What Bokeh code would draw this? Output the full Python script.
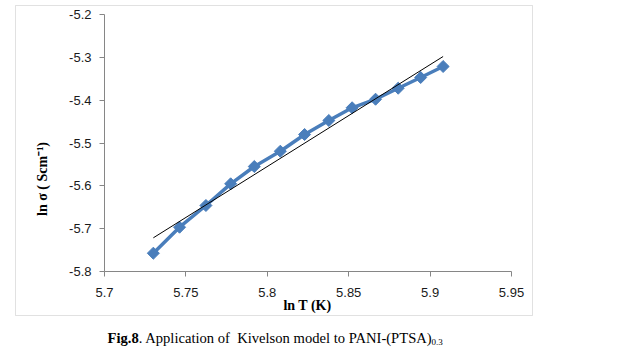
import numpy as np
from bokeh.plotting import figure
from bokeh.models import Range1d, FixedTicker, Label, BoxAnnotation
from bokeh.embed import file_html
from bokeh.resources import INLINE

# ---- data ----
ln_T = [5.7300, 5.7461, 5.7623, 5.7775, 5.7920, 5.8080, 5.8229,
        5.8378, 5.8521, 5.8665, 5.8804, 5.8942, 5.9080]
ln_sigma = [-5.7573, -5.6966, -5.6459, -5.5953, -5.5549, -5.5192, -5.4802,
            -5.4475, -5.4178, -5.3978, -5.3721, -5.3471, -5.3214]
x_ticks = [5.7, 5.75, 5.8, 5.85, 5.9, 5.95]
x_tick_labels = ["5.7", "5.75", "5.8", "5.85", "5.9", "5.95"]
y_ticks = [-5.8, -5.7, -5.6, -5.5, -5.4, -5.3, -5.2]
y_tick_labels = ["-5.8", "-5.7", "-5.6", "-5.5", "-5.4", "-5.3", "-5.2"]

x_title = "ln T (K)"
y_title = "ln σ ( Scm⁻¹)"
caption_bold = "Fig.8"
caption_main = ". Application of\u00a0 Kivelson model to PANI-(PTSA)"
caption_sub = "0.3"

# linear trend line (least squares)
slope, intercept = np.polyfit(ln_T, ln_sigma, 1)
trend_x = [min(ln_T), max(ln_T)]
trend_y = [slope * v + intercept for v in trend_x]

# ---- layout (pixels) ----
W, H = 641, 352
AX_L, AX_R, AX_T, AX_B = 104, 511, 14, 271   # plot-area box on the canvas
xlo, xhi = x_ticks[0], x_ticks[-1]
ylo, yhi = y_ticks[0], y_ticks[-1]
xs_per_px = (xhi - xlo) / (AX_R - AX_L)
ys_per_px = (yhi - ylo) / (AX_B - AX_T)
x_range = Range1d(xlo - AX_L * xs_per_px, xhi + (W - AX_R) * xs_per_px)
y_range = Range1d(ylo - (H - AX_B) * ys_per_px, yhi + AX_T * ys_per_px)

p = figure(width=W, height=H, output_backend="svg", toolbar_location=None,
           x_range=x_range, y_range=y_range, min_border=0)
p.title.visible = False
p.outline_line_color = None
p.xgrid.visible = False
p.ygrid.visible = False
p.background_fill_color = "white"
p.border_fill_color = "white"

p.xaxis.ticker = FixedTicker(ticks=x_ticks)
p.yaxis.ticker = FixedTicker(ticks=y_ticks)
p.xaxis.major_label_overrides = dict(zip(x_ticks, x_tick_labels))
p.yaxis.major_label_overrides = dict(zip(y_ticks, y_tick_labels))
p.xaxis.fixed_location = ylo
p.yaxis.fixed_location = xlo
p.xaxis.bounds = (xlo, xhi)
p.yaxis.bounds = (ylo, yhi)
for ax in (p.xaxis, p.yaxis):
    ax.axis_line_color = "#868686"
    ax.major_tick_line_color = "#868686"
    ax.minor_tick_line_color = None
    ax.major_tick_out = 5
    ax.major_tick_in = 0
    ax.major_label_text_font = "Liberation Sans"
    ax.major_label_text_font_size = "13px"
    ax.major_label_text_color = "#1a1a1a"
p.xaxis.major_label_standoff = 11
p.yaxis.major_label_standoff = 8

# data series
p.line(ln_T, ln_sigma, line_color="#4A7EBB", line_width=3.5)
p.scatter(ln_T, ln_sigma, marker="square", angle=np.pi / 4, size=8.5,
          fill_color="#4A7EBB", line_color="#4A7EBB")
# trend line
p.line(trend_x, trend_y, line_color="black", line_width=1)

def fy(py):
    return H - py

# outer chart border
p.add_layout(BoxAnnotation(left=15, right=532, top=fy(5), bottom=fy(315),
                           left_units="screen", right_units="screen",
                           top_units="screen", bottom_units="screen",
                           fill_alpha=0, line_color="#9d9d9d", line_width=1))

p.add_layout(Label(x=42, y=fy(178.5), x_units="screen", y_units="screen",
                   text=y_title, angle=np.pi / 2, text_align="center",
                   text_baseline="middle", text_font="Liberation Serif",
                   text_font_style="bold", text_font_size="14px", text_color="black"))
p.add_layout(Label(x=307, y=fy(305), x_units="screen", y_units="screen",
                   text=x_title, text_align="center", text_baseline="middle",
                   text_font="Liberation Serif", text_font_style="bold",
                   text_font_size="14px", text_color="black"))

cx, cy = 107, fy(337)
p.add_layout(Label(x=cx, y=cy, x_units="screen", y_units="screen",
                   text=caption_bold, text_align="left", text_baseline="middle",
                   text_font="Liberation Serif", text_font_style="bold",
                   text_font_size="14.6px", text_color="black"))
p.add_layout(Label(x=cx + 31.2, y=cy, x_units="screen", y_units="screen",
                   text=caption_main, text_align="left", text_baseline="middle",
                   text_font="Liberation Serif",
                   text_font_size="14.6px", text_color="black"))
p.add_layout(Label(x=cx + 324, y=cy - 4, x_units="screen", y_units="screen",
                   text=caption_sub, text_align="left", text_baseline="middle",
                   text_font="Liberation Serif",
                   text_font_size="9px", text_color="black"))

open("out.html", "w").write(file_html(p, INLINE))
